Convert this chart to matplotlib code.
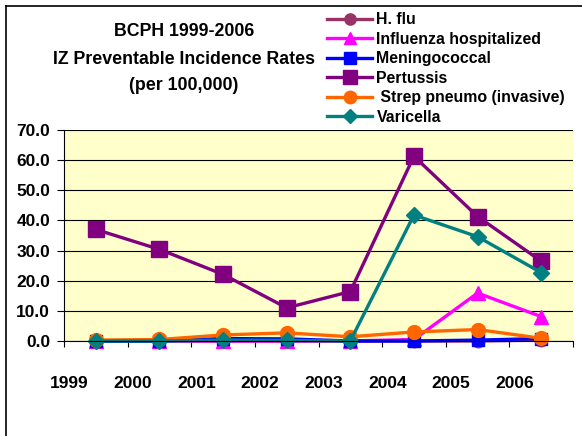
import matplotlib
matplotlib.use('Agg')
import matplotlib.pyplot as plt
from matplotlib.lines import Line2D

years = ['1999', '2000', '2001', '2002', '2003', '2004', '2005', '2006']

h_flu = [0.0, 0.0, 0.0, 0.0, 0.0, 0.0, 0.0, 0.3]
influenza = [0.0, 0.0, 0.0, 0.0, 0.0, 0.5, 15.9, 8.1]
meningococcal = [0.0, 0.0, 0.8, 0.7, 0.0, 0.0, 0.3, 0.8]
pertussis = [37.0, 30.4, 22.1, 11.0, 16.4, 61.3, 41.3, 26.5]
strep = [0.3, 0.5, 2.0, 2.7, 1.4, 3.0, 3.8, 0.9]
varicella = [0.0, 0.0, 0.3, 0.2, 0.0, 41.8, 34.6, 22.7]

series = [
    ('H. flu', h_flu, '#993366', 'o', 9),
    ('Influenza hospitalized', influenza, '#FF00FF', '^', 10),
    ('Meningococcal', meningococcal, '#0000FF', 's', 9),
    ('Pertussis', pertussis, '#800080', 's', 11),
    (' Strep pneumo (invasive)', strep, '#FF6600', 'o', 10),
    ('Varicella', varicella, '#008080', 'D', 8),
]

plt.rcParams['font.family'] = ['Liberation Sans', 'DejaVu Sans']
plt.rcParams['font.weight'] = 'bold'

fig = plt.figure(figsize=(5.82, 4.36), dpi=100)
ax = fig.add_axes([64 / 582, 95 / 436, 509 / 582, 211 / 436])
ax.set_facecolor('#FFFFCC')

x = list(range(len(years)))
for name, vals, color, marker, ms in series:
    ax.plot(x, vals, color=color, lw=2.4, marker=marker, markersize=ms,
            markerfacecolor=color, markeredgecolor=color, clip_on=False)

ax.set_xlim(-0.5, len(years) - 0.5)
ax.set_ylim(0, 70)
ax.set_yticks(range(0, 80, 10))
ax.set_yticklabels([f'{v:.1f}' for v in range(0, 80, 10)], fontsize=12.5, fontweight='bold')
ax.yaxis.grid(True, color='black', lw=0.8)
ax.set_axisbelow(True)

ax.set_xticks([i - 0.5 for i in range(len(years) + 1)])
ax.set_xticklabels([])
ax.tick_params(axis='x', direction='out', length=4, width=0.8)
ax.tick_params(axis='y', direction='out', length=5, width=0.8, pad=5)
for i, yr in enumerate(years):
    ax.text(i - 0.42, -0.2, yr, transform=ax.get_xaxis_transform(),
            ha='center', va='center', fontsize=12.5, fontweight='bold')

ax.spines['top'].set_visible(False)
ax.spines['right'].set_visible(False)
ax.spines['left'].set_linewidth(0.8)
ax.spines['bottom'].set_linewidth(0.8)

# title block
fig.text(184 / 582, 1 - 32 / 436, 'BCPH 1999-2006', ha='center', va='center',
         fontsize=12.8, fontweight='bold')
fig.text(184 / 582, 1 - 59 / 436, 'IZ Preventable Incidence Rates', ha='center',
         va='center', fontsize=12.8, fontweight='bold')
fig.text(184 / 582, 1 - 86 / 436, '(per 100,000)', ha='center', va='center',
         fontsize=12.8, fontweight='bold')

# legend
handles = [Line2D([], [], color=c, lw=2.4, marker=m, markersize=ms * 0.9,
                  markerfacecolor=c, markeredgecolor=c)
           for _, _, c, m, ms in series]
labels = [s[0] for s in series]
fig.legend(handles, labels, loc='upper left', bbox_to_anchor=(325 / 582, 1 - 10 / 436),
           frameon=True, fancybox=False, edgecolor='white', facecolor='white',
           framealpha=1, prop={'weight': 'bold', 'size': 11.4},
           handlelength=2.8, handletextpad=0.3, labelspacing=0.28,
           borderpad=0.15, borderaxespad=0)

# outer frame (left and top edges)
fig.add_artist(Line2D([6 / 582, 6 / 582], [0, 1 - 6 / 436], color='black', lw=1.2,
                      transform=fig.transFigure))
fig.add_artist(Line2D([6 / 582, 1], [1 - 6 / 436, 1 - 6 / 436], color='black', lw=1.2,
                      transform=fig.transFigure))

fig.savefig('out.png', dpi=100)
